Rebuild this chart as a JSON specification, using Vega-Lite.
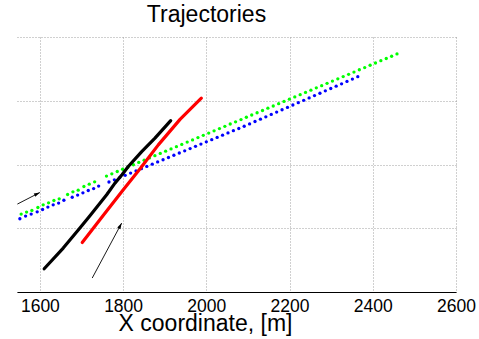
{
  "$schema": "https://vega.github.io/schema/vega-lite/v6.json",
  "width": 439,
  "height": 255,
  "autosize": {"type": "none"},
  "padding": {"left": 17, "top": 37, "right": 23, "bottom": 47},
  "background": "white",
  "config": {"view": {"stroke": null}, "font": "Liberation Sans"},
  "title": {"text": "Trajectories", "font": "Liberation Sans", "fontSize": 23, "fontWeight": "normal", "color": "black", "anchor": "middle", "frame": "group", "dx": -30, "dy": 22, "baseline": "alphabetic", "offset": 14},
  "datasets": {
    "dots": [
      {"v": "green", "X": 1555.0, "Y": 122.2}, {"v": "green", "X": 1568.0, "Y": 125.4}, {"v": "green", "X": 1580.8, "Y": 127.9}, {"v": "green", "X": 1595.2, "Y": 132.6}, {"v": "green", "X": 1607.9, "Y": 136.8}, {"v": "green", "X": 1620.9, "Y": 139.9}, {"v": "green", "X": 1633.7, "Y": 143.5}, {"v": "green", "X": 1646.4, "Y": 146.2}, {"v": "green", "X": 1666.6, "Y": 152.9}, {"v": "green", "X": 1679.4, "Y": 157.2}, {"v": "green", "X": 1692.1, "Y": 159.8}, {"v": "green", "X": 1705.8, "Y": 165.5}, {"v": "green", "X": 1718.6, "Y": 169.2}, {"v": "green", "X": 1731.6, "Y": 172.8},
      {"v": "green", "X": 1760.0, "Y": 181.9}, {"v": "green", "X": 1772.9, "Y": 185.4}, {"v": "green", "X": 1785.9, "Y": 189.0}, {"v": "green", "X": 1798.8, "Y": 192.5}, {"v": "green", "X": 1811.7, "Y": 196.1}, {"v": "green", "X": 1824.7, "Y": 199.6}, {"v": "green", "X": 1837.6, "Y": 203.2}, {"v": "green", "X": 1850.5, "Y": 206.7}, {"v": "green", "X": 1863.4, "Y": 210.3}, {"v": "green", "X": 1876.4, "Y": 213.8}, {"v": "green", "X": 1889.3, "Y": 217.4}, {"v": "green", "X": 1902.2, "Y": 220.9}, {"v": "green", "X": 1915.2, "Y": 224.5}, {"v": "green", "X": 1928.1, "Y": 228.0}, {"v": "green", "X": 1941.0, "Y": 231.5}, {"v": "green", "X": 1954.0, "Y": 235.1}, {"v": "green", "X": 1966.9, "Y": 238.6}, {"v": "green", "X": 1979.8, "Y": 242.2}, {"v": "green", "X": 1992.7, "Y": 245.7}, {"v": "green", "X": 2005.7, "Y": 249.3}, {"v": "green", "X": 2018.6, "Y": 252.8}, {"v": "green", "X": 2031.5, "Y": 256.4}, {"v": "green", "X": 2044.5, "Y": 259.9}, {"v": "green", "X": 2057.4, "Y": 263.5}, {"v": "green", "X": 2070.3, "Y": 267.0}, {"v": "green", "X": 2083.3, "Y": 270.5}, {"v": "green", "X": 2096.2, "Y": 274.1}, {"v": "green", "X": 2109.1, "Y": 277.6}, {"v": "green", "X": 2122.0, "Y": 281.2}, {"v": "green", "X": 2135.0, "Y": 284.7}, {"v": "green", "X": 2147.9, "Y": 288.3}, {"v": "green", "X": 2160.8, "Y": 291.8}, {"v": "green", "X": 2173.8, "Y": 295.4}, {"v": "green", "X": 2186.7, "Y": 298.9}, {"v": "green", "X": 2199.6, "Y": 302.5}, {"v": "green", "X": 2212.6, "Y": 306.0}, {"v": "green", "X": 2225.5, "Y": 309.6}, {"v": "green", "X": 2238.4, "Y": 313.1}, {"v": "green", "X": 2251.3, "Y": 316.6}, {"v": "green", "X": 2264.3, "Y": 320.2}, {"v": "green", "X": 2277.2, "Y": 323.7}, {"v": "green", "X": 2290.1, "Y": 327.3}, {"v": "green", "X": 2303.1, "Y": 330.8}, {"v": "green", "X": 2316.0, "Y": 334.4}, {"v": "green", "X": 2328.9, "Y": 337.9}, {"v": "green", "X": 2341.9, "Y": 341.5}, {"v": "green", "X": 2354.8, "Y": 345.0}, {"v": "green", "X": 2367.7, "Y": 348.6}, {"v": "green", "X": 2380.6, "Y": 352.1}, {"v": "green", "X": 2393.6, "Y": 355.7}, {"v": "green", "X": 2406.5, "Y": 359.2}, {"v": "green", "X": 2419.4, "Y": 362.8}, {"v": "green", "X": 2432.4, "Y": 366.3}, {"v": "green", "X": 2445.3, "Y": 369.8}, {"v": "green", "X": 2458.2, "Y": 373.4},
      {"v": "blue", "X": 1551.9, "Y": 114.9}, {"v": "blue", "X": 1565.6, "Y": 119.1}, {"v": "blue", "X": 1579.1, "Y": 122.2}, {"v": "blue", "X": 1593.5, "Y": 125.8}, {"v": "blue", "X": 1606.5, "Y": 129.4}, {"v": "blue", "X": 1619.2, "Y": 133.2}, {"v": "blue", "X": 1632.0, "Y": 136.8}, {"v": "blue", "X": 1645.0, "Y": 139.5}, {"v": "blue", "X": 1657.7, "Y": 143.9}, {"v": "blue", "X": 1677.7, "Y": 148.6}, {"v": "blue", "X": 1690.7, "Y": 152.0}, {"v": "blue", "X": 1703.4, "Y": 155.6}, {"v": "blue", "X": 1716.2, "Y": 159.2}, {"v": "blue", "X": 1729.2, "Y": 162.3}, {"v": "blue", "X": 1741.2, "Y": 166.1},
      {"v": "blue", "X": 1766.0, "Y": 172.5}, {"v": "blue", "X": 1779.0, "Y": 176.0}, {"v": "blue", "X": 1792.0, "Y": 179.5}, {"v": "blue", "X": 1805.0, "Y": 183.0}, {"v": "blue", "X": 1818.0, "Y": 186.5}, {"v": "blue", "X": 1831.0, "Y": 190.0}, {"v": "blue", "X": 1844.0, "Y": 193.5}, {"v": "blue", "X": 1857.0, "Y": 197.0}, {"v": "blue", "X": 1870.0, "Y": 200.5}, {"v": "blue", "X": 1883.0, "Y": 204.0}, {"v": "blue", "X": 1896.0, "Y": 207.5}, {"v": "blue", "X": 1909.0, "Y": 211.0}, {"v": "blue", "X": 1922.0, "Y": 214.5}, {"v": "blue", "X": 1935.0, "Y": 218.0}, {"v": "blue", "X": 1948.0, "Y": 221.5}, {"v": "blue", "X": 1961.0, "Y": 225.0}, {"v": "blue", "X": 1974.0, "Y": 228.5}, {"v": "blue", "X": 1987.0, "Y": 232.0}, {"v": "blue", "X": 2000.0, "Y": 235.5}, {"v": "blue", "X": 2013.0, "Y": 239.0}, {"v": "blue", "X": 2026.0, "Y": 242.5}, {"v": "blue", "X": 2039.0, "Y": 246.0}, {"v": "blue", "X": 2052.0, "Y": 249.5}, {"v": "blue", "X": 2065.0, "Y": 253.0}, {"v": "blue", "X": 2078.0, "Y": 256.5}, {"v": "blue", "X": 2091.0, "Y": 260.0}, {"v": "blue", "X": 2104.0, "Y": 263.7}, {"v": "blue", "X": 2117.0, "Y": 267.4}, {"v": "blue", "X": 2130.0, "Y": 271.1}, {"v": "blue", "X": 2143.0, "Y": 274.8}, {"v": "blue", "X": 2156.0, "Y": 278.5}, {"v": "blue", "X": 2169.0, "Y": 282.2}, {"v": "blue", "X": 2182.0, "Y": 285.9}, {"v": "blue", "X": 2195.0, "Y": 289.6}, {"v": "blue", "X": 2208.0, "Y": 293.3}, {"v": "blue", "X": 2221.0, "Y": 297.0}, {"v": "blue", "X": 2234.0, "Y": 300.7}, {"v": "blue", "X": 2247.0, "Y": 304.4}, {"v": "blue", "X": 2260.0, "Y": 308.1}, {"v": "blue", "X": 2273.0, "Y": 311.8}, {"v": "blue", "X": 2286.0, "Y": 315.5}, {"v": "blue", "X": 2299.0, "Y": 319.2}, {"v": "blue", "X": 2312.0, "Y": 322.9}, {"v": "blue", "X": 2325.0, "Y": 326.6}, {"v": "blue", "X": 2338.0, "Y": 330.3}, {"v": "blue", "X": 2351.0, "Y": 334.0}, {"v": "blue", "X": 2364.0, "Y": 337.7}
    ],
    "tracks": [
      {"v": "black", "X": 1610.3, "Y": 36.5}, {"v": "black", "X": 1656.1, "Y": 68.9}, {"v": "black", "X": 1696.2, "Y": 100.3}, {"v": "black", "X": 1720.3, "Y": 119.6}, {"v": "black", "X": 1760.5, "Y": 152.5}, {"v": "black", "X": 1780.4, "Y": 170.8}, {"v": "black", "X": 1797.3, "Y": 183.8}, {"v": "black", "X": 1812.4, "Y": 196.8}, {"v": "black", "X": 1844.7, "Y": 220.3}, {"v": "black", "X": 1876.6, "Y": 241.3}, {"v": "black", "X": 1914.4, "Y": 268.9},
      {"v": "red", "X": 1701.8, "Y": 77.7}, {"v": "red", "X": 1751.6, "Y": 119.6}, {"v": "red", "X": 1800.4, "Y": 160.3}, {"v": "red", "X": 1841.7, "Y": 194.0}, {"v": "red", "X": 1884.6, "Y": 230.8}, {"v": "red", "X": 1892.8, "Y": 237.1}, {"v": "red", "X": 1936.8, "Y": 270.8}, {"v": "red", "X": 1988.0, "Y": 304.0}
    ],
    "arrows": [
      {"id": "a1", "X": 1545.9, "Y": 137.9, "X2": 1600.0, "Y2": 156.1},
      {"id": "a2", "X": 1725.8, "Y": 21.9, "X2": 1796.5, "Y2": 108.1}
    ]
  },
  "encoding": {
    "x": {"field": "X", "type": "quantitative", "scale": {"domain": [1545, 2600], "nice": false, "zero": false},
      "axis": {"values": [1600, 1800, 2000, 2200, 2400, 2600], "format": "d", "title": "X coordinate, [m]", "titleFont": "Liberation Sans", "titleFontSize": 23, "titleFontWeight": "normal", "titleColor": "black", "titleX": 188, "titleY": 38, "titleBaseline": "alphabetic", "titleAlign": "center", "titleAnchor": null,
        "labelFont": "Liberation Sans", "labelFontSize": 17.5, "labelColor": "black", "labelBaseline": "alphabetic", "labelPadding": 19, "ticks": false, "tickSize": 0, "labelFlush": false, "labelOverlap": false,
        "domainColor": "black", "domainWidth": 1, "grid": true, "gridColor": "#a0a0a0", "gridDash": [1, 2], "gridWidth": 1, "gridOpacity": 1}},
    "y": {"field": "Y", "type": "quantitative", "scale": {"domain": [0, 400], "nice": false, "zero": false},
      "axis": {"values": [0, 100, 200, 300, 400], "title": null, "labels": false, "ticks": false, "domain": false, "grid": true, "gridColor": "#a0a0a0", "gridDash": [1, 2], "gridWidth": 1, "gridOpacity": 1}}
  },
  "layer": [
    {"data": {"name": "dots"}, "mark": {"type": "point", "filled": true, "shape": "circle", "size": 11, "opacity": 1, "clip": true},
      "encoding": {"color": {"field": "v", "type": "nominal", "scale": {"domain": ["green", "blue", "black", "red"], "range": ["#00ff00", "#0000ff", "#000000", "#ff0000"]}, "legend": null}}},
    {"data": {"name": "tracks"}, "mark": {"type": "line", "strokeWidth": 3.2, "strokeCap": "round", "strokeJoin": "round", "clip": true},
      "encoding": {"color": {"field": "v", "type": "nominal", "scale": {"domain": ["green", "blue", "black", "red"], "range": ["#00ff00", "#0000ff", "#000000", "#ff0000"]}, "legend": null}}},
    {"data": {"name": "arrows"}, "mark": {"type": "rule", "color": "black", "strokeWidth": 0.9, "clip": true},
      "encoding": {"x2": {"field": "X2"}, "y2": {"field": "Y2"}}},
    {"data": {"name": "arrows"}, "transform": [{"filter": "datum.id === 'a1'"}], "mark": {"type": "point", "filled": true, "color": "black", "opacity": 1, "shape": "M0,0L-0.6,2L0.6,2Z", "size": 36, "angle": 63},
      "encoding": {"x": {"field": "X2", "type": "quantitative"}, "y": {"field": "Y2", "type": "quantitative"}}},
    {"data": {"name": "arrows"}, "transform": [{"filter": "datum.id === 'a2'"}], "mark": {"type": "point", "filled": true, "color": "black", "opacity": 1, "shape": "M0,0L-0.6,2L0.6,2Z", "size": 36, "angle": 28},
      "encoding": {"x": {"field": "X2", "type": "quantitative"}, "y": {"field": "Y2", "type": "quantitative"}}}
  ]
}
